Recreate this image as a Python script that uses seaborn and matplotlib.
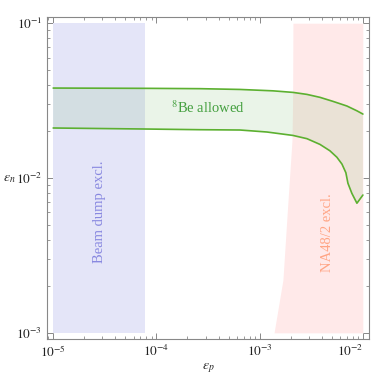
import numpy as np
import pandas as pd
import matplotlib
matplotlib.use("Agg")
import matplotlib.pyplot as plt
import seaborn as sns

# 8Be allowed band: upper and lower edges (log10 eps_p, log10 eps_n)
upper_logx = [-5.0, -4.06, -3.577, -3.19, -2.87, -2.677, -2.541, -2.415, -2.289, -2.154, -2.057, -1.999]
upper_logy = [-1.419, -1.421, -1.423, -1.428, -1.437, -1.447, -1.460, -1.479, -1.505, -1.535, -1.566, -1.587]
lower_logx = [-5.0, -4.061, -3.577, -3.19, -2.928, -2.677, -2.541, -2.415, -2.319, -2.251, -2.202,
              -2.164, -2.144, -2.106, -2.057, -1.999]
lower_logy = [-1.677, -1.684, -1.688, -1.690, -1.703, -1.725, -1.746, -1.783, -1.824, -1.866, -1.910,
              -1.966, -2.034, -2.099, -2.163, -2.110]

# beam dump exclusion box
beam_x = [1e-5, 7.8e-5]
beam_y = [1e-3, 1e-1]

# NA48/2 exclusion: left edge, right edge at 1e-2
na48_logx = [-2.677, -2.68, -2.686, -2.73, -2.774, -2.86]
na48_logy = [-1.0, -1.5, -1.755, -2.2, -2.658, -3.0]
na48_right = 1e-2

xticks = [1e-5, 1e-4, 1e-3, 1e-2]
yticks = [1e-3, 1e-2, 1e-1]

sns.set_theme(style="ticks")
plt.rcParams["font.family"] = ["Liberation Serif", "DejaVu Serif"]
plt.rcParams["mathtext.fontset"] = "stix"

fig = plt.figure(figsize=(3.74, 3.81), dpi=100)
ax = fig.add_axes([0.1257, 0.1102, 0.8609, 0.8452])
ax.set_xscale("log")
ax.set_yscale("log")

# beam dump
ax.fill_between(beam_x, beam_y[0], beam_y[1], color="#e4e5f8", lw=0, zorder=1)

# NA48/2
na_x = np.power(10.0, na48_logx)
na_y = np.power(10.0, na48_logy)
ax.fill_betweenx(na_y, na_x, na48_right, color="#ffe9e9", lw=0, zorder=1)

# band
ux = np.power(10.0, upper_logx)
uy = np.power(10.0, upper_logy)
lx = np.power(10.0, lower_logx)
ly = np.power(10.0, lower_logy)
poly_x = np.concatenate([ux, lx[::-1]])
poly_y = np.concatenate([uy, ly[::-1]])
ax.fill(poly_x, poly_y, color="#7fbf73", alpha=0.16, lw=0, zorder=2)

line_col = "#5cb030"
up = pd.DataFrame({"x": ux, "y": uy})
lo = pd.DataFrame({"x": lx, "y": ly})
sns.lineplot(data=up, x="x", y="y", sort=False, color=line_col, lw=1.2, ax=ax, zorder=3)
sns.lineplot(data=lo, x="x", y="y", sort=False, color=line_col, lw=1.2, ax=ax, zorder=3)

ax.text(10 ** -3.5, 10 ** -1.548, r"$^8$Be allowed", color="#45a040",
        fontsize=10.5, ha="center", va="center", zorder=4)
ax.text(10 ** -4.55, 10 ** -2.22, "Beam dump excl.", color="#8888e0",
        fontsize=10.5, rotation=90, ha="center", va="center", zorder=4)
ax.text(10 ** -2.34, 10 ** -2.35, "NA48/2 excl.", color="#ffa585",
        fontsize=10.5, rotation=90, ha="center", va="center", zorder=4)

ax.set_xlim(10 ** -5.06, 10 ** -1.94)
ax.set_ylim(10 ** -3.04, 10 ** -0.96)
ax.set_xticks(xticks)
ax.set_yticks(yticks)
ax.set_xticklabels([r"$10^{-5}$", r"$10^{-4}$", r"$10^{-3}$", r"$10^{-2}$"])
ax.set_yticklabels([r"$10^{-3}$", r"$10^{-2}$", r"$10^{-1}$"])
ax.tick_params(which="both", direction="in", top=True, right=True,
               color="#888888", labelsize=9.5, labelcolor="#222222")
ax.tick_params(which="major", length=4.5, width=0.7)
ax.tick_params(which="minor", length=2.5, width=0.6)
# keep last x label inside the figure
ax.get_xticklabels()[-1].set_horizontalalignment("right")
for s in ax.spines.values():
    s.set_color("#888888")
    s.set_linewidth(0.8)

ax.set_xlabel(r"$\varepsilon_p$", fontsize=10, labelpad=1)
ax.set_ylabel(r"$\varepsilon_n$", fontsize=10, rotation=0, labelpad=5, va="center")

fig.savefig("out.png", dpi=100)
